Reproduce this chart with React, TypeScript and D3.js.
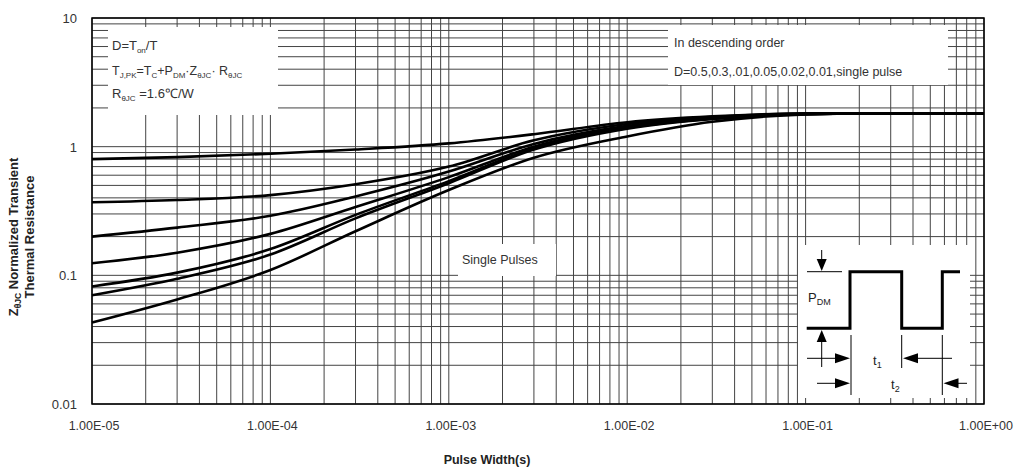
import React from 'react';
import * as d3 from 'd3';

const PULSE_WIDTHS = [1e-5, 3e-5, 1e-4, 3e-4, 1e-3, 3e-3, 1e-2, 3e-2, 1e-1, 3e-1, 1];

// normalized transient thermal resistance, one list per duty cycle
const Z_D050 = [0.80, 0.83, 0.88, 0.95, 1.06, 1.25, 1.55, 1.72, 1.81, 1.82, 1.82];
const Z_D030 = [0.37, 0.385, 0.42, 0.51, 0.70, 1.12, 1.50, 1.70, 1.81, 1.82, 1.82];
const Z_D010 = [0.20, 0.235, 0.29, 0.41, 0.64, 1.05, 1.45, 1.68, 1.80, 1.82, 1.82];
const Z_D005 = [0.124, 0.15, 0.21, 0.34, 0.58, 1.0, 1.42, 1.66, 1.80, 1.82, 1.82];
const Z_D002 = [0.082, 0.105, 0.16, 0.295, 0.54, 0.97, 1.40, 1.65, 1.79, 1.82, 1.82];
const Z_D001 = [0.07, 0.094, 0.145, 0.277, 0.52, 0.95, 1.38, 1.64, 1.79, 1.82, 1.82];
const Z_SINGLE = [0.043, 0.065, 0.11, 0.22, 0.46, 0.82, 1.20, 1.56, 1.78, 1.82, 1.82];

const SERIES = [Z_D050, Z_D030, Z_D010, Z_D005, Z_D002, Z_D001, Z_SINGLE];

const X_TICKS = [1e-5, 1e-4, 1e-3, 1e-2, 1e-1, 1];
const X_TICK_LABELS = ['1.00E-05', '1.00E-04', '1.00E-03', '1.00E-02', '1.00E-01', '1.00E+00'];
const Y_TICKS = [0.01, 0.1, 1, 10];
const Y_TICK_LABELS = ['0.01', '0.1', '1', '10'];

const W = 1023;
const H = 470;
const M = { left: 92, right: 984, top: 18, bottom: 404 };
const FONT = '"Liberation Sans", Arial, sans-serif';

// little helper: text with subscripts, segs = [text, isSub]
const SubText = ({ x, y, segs, size = 13, subSize = 8, ...rest }: any) => {
  let prevSub = false;
  return (
    <text x={x} y={y} fontSize={size} fontFamily={FONT} {...rest}>
      {segs.map(([t, sub]: [string, boolean], i: number) => {
        let dy = 0;
        if (sub && !prevSub) dy = 3;
        if (!sub && prevSub) dy = -3;
        prevSub = sub;
        return (
          <tspan key={i} dy={dy} fontSize={sub ? subSize : size}>{t}</tspan>
        );
      })}
    </text>
  );
};

const Arrow = ({ x, y, dir }: { x: number; y: number; dir: string }) => {
  // tip at (x,y)
  const L = 15, h = 5;
  let pts = '';
  if (dir === 'right') pts = `${x},${y} ${x - L},${y - h} ${x - L},${y + h}`;
  if (dir === 'left') pts = `${x},${y} ${x + L},${y - h} ${x + L},${y + h}`;
  if (dir === 'down') pts = `${x},${y} ${x - h},${y - 12} ${x + h},${y - 12}`;
  if (dir === 'up') pts = `${x},${y} ${x - h},${y + 12} ${x + h},${y + 12}`;
  return <polygon points={pts} fill="#000" />;
};

export default function App() {
  const x = d3.scaleLog().domain([1e-5, 1]).range([M.left, M.right]);
  const y = d3.scaleLog().domain([0.01, 10]).range([M.bottom, M.top]);

  const gridX: number[] = [];
  for (let e = -5; e < 0; e++) for (let k = 1; k <= 9; k++) gridX.push(k * Math.pow(10, e));
  gridX.push(1);
  const gridY: number[] = [];
  for (let e = -2; e < 1; e++) for (let k = 1; k <= 9; k++) gridY.push(k * Math.pow(10, e));
  gridY.push(10);

  const line = d3
    .line<number>()
    .x((_, i) => x(PULSE_WIDTHS[i]))
    .y((d) => y(d))
    .curve(d3.curveMonotoneX);

  const grey = '#333';

  return (
    <svg width={W} height={H} style={{ position: 'absolute', left: 0, top: 0, background: '#fff' }}>
      <rect width={W} height={H} fill="#fff" />

      {/* grid */}
      {gridX.map((v, i) => (
        <line key={'gx' + i} x1={x(v)} x2={x(v)} y1={M.top} y2={M.bottom} stroke="#444" strokeWidth={1} />
      ))}
      {gridY.map((v, i) => (
        <line key={'gy' + i} x1={M.left} x2={M.right} y1={y(v)} y2={y(v)} stroke="#444" strokeWidth={1} />
      ))}

      {/* white boxes behind annotations */}
      <rect x={108} y={27} width={170} height={88} fill="#fff" />
      <rect x={668} y={25} width={280} height={60} fill="#fff" />
      <rect x={458} y={244} width={98} height={32} fill="#fff" />
      <rect x={798} y={245} width={172} height={153} fill="#fff" />

      {/* curves */}
      {SERIES.map((s, i) => (
        <path key={'s' + i} d={line(s) || ''} fill="none" stroke="#000" strokeWidth={2.6} />
      ))}

      {/* frame */}
      <rect x={M.left} y={M.top} width={M.right - M.left} height={M.bottom - M.top} fill="none" stroke="#000" strokeWidth={1.5} />

      {/* tick labels */}
      {X_TICKS.map((v, i) => (
        <text key={'xt' + i} x={x(v) + 2} y={430} textAnchor="middle" fontSize={12.5} fontFamily={FONT} fill={grey}>
          {X_TICK_LABELS[i]}
        </text>
      ))}
      {Y_TICKS.map((v, i) => (
        <text key={'yt' + i} x={77} y={y(v) + 5} textAnchor="end" fontSize={13} fontFamily={FONT} fill={grey}>
          {Y_TICK_LABELS[i]}
        </text>
      ))}

      {/* axis titles */}
      <text x={487} y={464} textAnchor="middle" fontSize={12.5} fontWeight="bold" fontFamily={FONT} fill="#222">
        Pulse Width(s)
      </text>
      <g transform="translate(18,237) rotate(-90)">
        <SubText x={0} y={0} textAnchor="middle" size={13} subSize={8.5} fontWeight="bold" fill="#222"
          segs={[['Z', false], ['θJC', true], [' Normalized Transient', false]]} />
        <text x={0} y={16} textAnchor="middle" fontSize={13} fontWeight="bold" fontFamily={FONT} fill="#222">
          Thermal Resistance
        </text>
      </g>

      {/* legend notes */}
      <SubText x={112} y={50} fill={grey} segs={[['D=T', false], ['on', true], ['/T', false]]} />
      <SubText x={112} y={75} size={12.5} fill={grey}
        segs={[['T', false], ['J,PK', true], ['=T', false], ['C', true], ['+P', false], ['DM', true], ['·Z', false], ['θJC', true], ['· R', false], ['θJC', true]]} />
      <SubText x={112} y={98} fill={grey} segs={[['R', false], ['θJC', true], [' =1.6℃/W', false]]} />

      <text x={674} y={47} fontSize={12.5} fontFamily={FONT} fill={grey}>In descending order</text>
      <text x={674} y={76} fontSize={12.5} fontFamily={FONT} fill={grey}>D=0.5,0.3,.01,0.05,0.02,0.01,single  pulse</text>

      <text x={462} y={264} fontSize={12.5} fontFamily={FONT} fill={grey}>Single Pulses</text>

      {/* pulse inset */}
      <path d="M806.7,328.3 H850 V271.7 H901.7 V328.3 H942.3 V271.7 H960" fill="none" stroke="#000" strokeWidth={3} />
      <line x1={807} x2={842} y1={271.7} y2={271.7} stroke="#000" strokeWidth={1} />
      <line x1={821.7} x2={821.7} y1={250} y2={262} stroke="#000" strokeWidth={1} />
      <Arrow x={821.7} y={271} dir="down" />
      <line x1={821.7} x2={821.7} y1={340} y2={367} stroke="#000" strokeWidth={1} />
      <Arrow x={821.7} y={330} dir="up" />
      <SubText x={808} y={302} size={13} subSize={9} fill="#222" segs={[['P', false], ['DM', true]]} />

      <line x1={851} x2={851} y1={335} y2={395} stroke="#000" strokeWidth={1} />
      <line x1={901.7} x2={901.7} y1={335} y2={368} stroke="#000" strokeWidth={1} />
      <line x1={942.3} x2={942.3} y1={335} y2={395} stroke="#000" strokeWidth={1} />

      <line x1={807} x2={840} y1={358.3} y2={358.3} stroke="#000" strokeWidth={1} />
      <Arrow x={850} y={358.3} dir="right" />
      <line x1={912} x2={952} y1={358.3} y2={358.3} stroke="#000" strokeWidth={1} />
      <Arrow x={903} y={358.3} dir="left" />
      <SubText x={873} y={365} size={13} subSize={9} fill="#222" segs={[['t', false], ['1', true]]} />

      <line x1={817} x2={840} y1={383.3} y2={383.3} stroke="#000" strokeWidth={1} />
      <Arrow x={850} y={383.3} dir="right" />
      <line x1={952} x2={967} y1={383.3} y2={383.3} stroke="#000" strokeWidth={1} />
      <Arrow x={943.5} y={383.3} dir="left" />
      <SubText x={891} y={389} size={13} subSize={9} fill="#222" segs={[['t', false], ['2', true]]} />
    </svg>
  );
}
